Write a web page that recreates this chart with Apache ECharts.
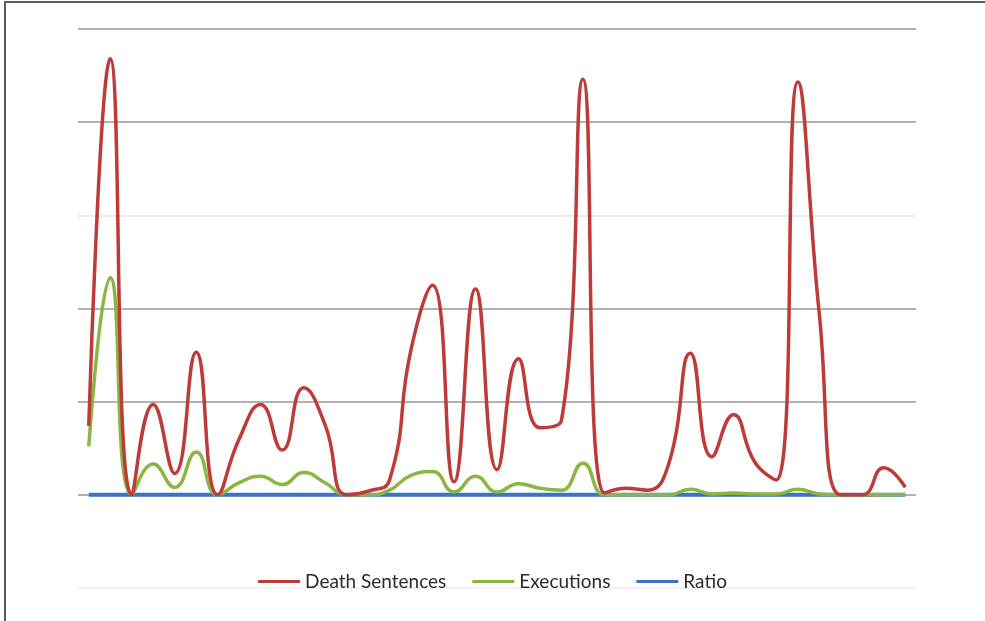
<!DOCTYPE html>
<html>
<head>
<meta charset="utf-8">
<script src="https://cdn.jsdelivr.net/npm/echarts@6/dist/echarts.min.js"></script>
<style>
  html, body { margin: 0; padding: 0; background: #fff; }
  #frame {
    position: absolute; left: 4px; top: 1px; width: 1000px; height: 640px;
    border-left: 2px solid #5a5a5a; border-top: 2px solid #5a5a5a;
    box-sizing: border-box;
  }
  #chart { position: absolute; left: 0; top: 0; width: 985px; height: 621px; }
</style>
</head>
<body>
<div id="frame"></div>
<div id="chart"></div>
<script>
// 类目（无标签，共 39 个点）
const categories = Array.from({ length: 39 }, (_, i) => String(i + 1))

// 数据系列
const deathSentences = [
  0.74, 4.68, 0, 0.97, 0.23, 1.53, 0, 0.6, 0.97, 0.48,
  1.15, 0.75, 0, 0.04, 0.16, 1.56, 2.25, 0.14, 2.21, 0.27,
  1.46, 0.72, 0.8, 4.46, 0.02, 0.07, 0.05, 0.34, 1.52, 0.41,
  0.86, 0.35, 0.16, 4.43, 1.94, 0, 0, 0.29, 0.08
]
const executions = [
  0.52, 2.33, 0, 0.33, 0.08, 0.46, 0, 0.13, 0.2, 0.11,
  0.24, 0.13, 0, 0, 0.05, 0.21, 0.25, 0.03, 0.2, 0.03,
  0.12, 0.07, 0.05, 0.34, 0, 0, 0, 0, 0.06, 0.01,
  0.02, 0.01, 0.01, 0.06, 0.01, 0, 0, 0, 0
]
const ratio = categories.map(() => 0)

const seriesNames = ['Death Sentences', 'Executions', 'Ratio']
const seriesColors = ['#bd3b38', '#8cb644', '#3a74c2']

// 网格线颜色（从下往上）
const splitColors = ['#ececec', '#9a9a9a', '#9a9a9a', '#9a9a9a', '#e6e6e6', '#9a9a9a', '#9a9a9a']

const chart = echarts.init(document.getElementById('chart'))

const makeSeries = (name, data, idx, width) => ({
  name,
  type: 'line',
  data,
  smooth: 0.5,
  symbol: 'none',
  lineStyle: { width, color: seriesColors[idx] },
  itemStyle: { color: seriesColors[idx] },
  z: 10 - idx
})

chart.setOption({
  animation: false,
  grid: { left: 78, right: 69, top: 29, bottom: 33 },
  legend: {
    top: 567,
    left: 'center',
    icon: 'rect',
    itemWidth: 42,
    itemHeight: 3,
    itemGap: 26,
    textStyle: { fontFamily: 'Lato', fontSize: 19, color: '#2b2b2b' },
    data: seriesNames
  },
  xAxis: {
    type: 'category',
    data: categories,
    boundaryGap: true,
    axisLine: { show: false },
    axisTick: { show: false },
    axisLabel: { show: false },
    splitLine: { show: false }
  },
  yAxis: {
    type: 'value',
    min: -1,
    max: 5,
    interval: 1,
    axisLine: { show: false },
    axisTick: { show: false },
    axisLabel: { show: false },
    splitLine: { show: true, lineStyle: { color: splitColors, width: 1.5 } }
  },
  series: [
    makeSeries(seriesNames[0], deathSentences, 0, 3.5),
    makeSeries(seriesNames[1], executions, 1, 3.5),
    makeSeries(seriesNames[2], ratio, 2, 4)
  ]
})
</script>
</body>
</html>
